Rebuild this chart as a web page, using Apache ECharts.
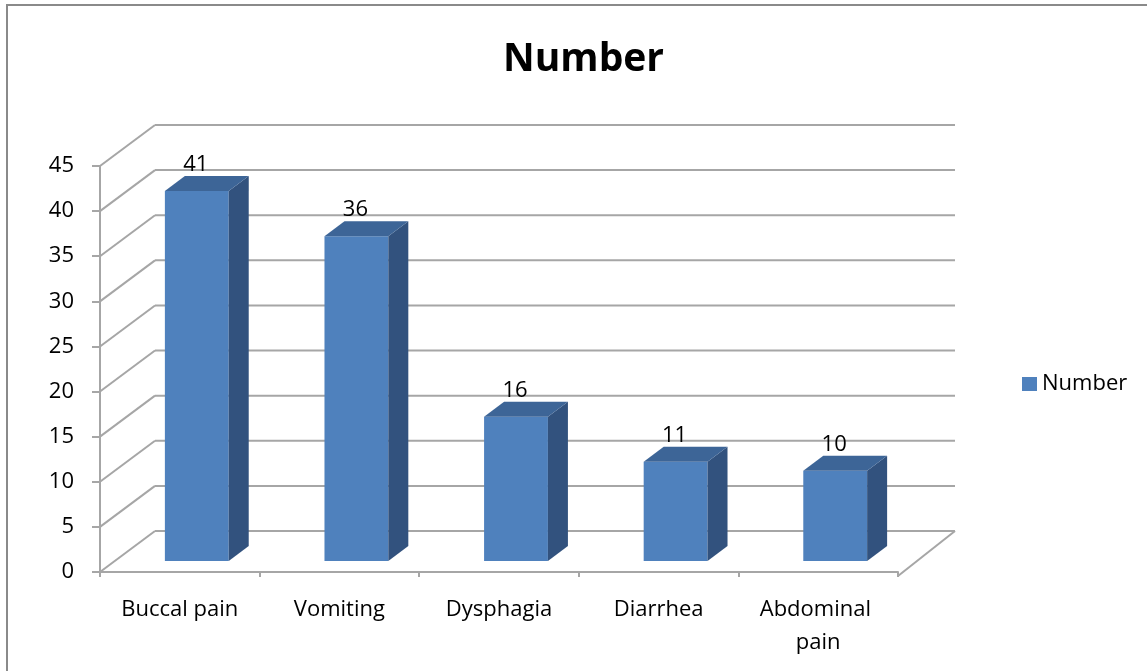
<!DOCTYPE html>
<html>
<head>
<meta charset="utf-8">
<script src="https://cdn.jsdelivr.net/npm/echarts@6/dist/echarts.min.js"></script>
<style>
html,body{margin:0;padding:0;background:#fff;}
#chart{width:1147px;height:671px;}
</style>
</head>
<body>
<div id="chart"></div>
<script>
const categories = ['Buccal pain', 'Vomiting', 'Dysphagia', 'Diarrhea', 'Abdominal pain'];
const values = [41, 36, 16, 11, 10];
const yTicks = [0, 5, 10, 15, 20, 25, 30, 35, 40, 45];
const seriesName = 'Number';

const FONT = 'Open Sans';
const FS = 22;
const FRONT = '#4F81BD';
const TOPC = '#3D6597';
const SIDE = '#32527E';
const GRID = '#A6A6A6';
const DEPTH_X = 55, DEPTH_Y = -41;

const chart = echarts.init(document.getElementById('chart'));

function renderGrid(params, api) {
  const v = api.value(1);
  const cs = params.coordSys;
  const p = api.coord([0, v]);
  const y = p[1];
  const x0 = cs.x;
  const xr = cs.x + cs.width;
  const children = [
    {type: 'line', shape: {x1: x0, y1: y, x2: x0 + DEPTH_X, y2: y + DEPTH_Y},
     style: {stroke: GRID, lineWidth: 2}},
    {type: 'line', shape: {x1: x0 + DEPTH_X, y1: y + DEPTH_Y, x2: xr + DEPTH_X + 2, y2: y + DEPTH_Y},
     style: {stroke: GRID, lineWidth: 2}}
  ];
  if (v === 0) {
    children.push({type: 'line', shape: {x1: xr, y1: y + 4, x2: xr + DEPTH_X + 2, y2: y + DEPTH_Y},
      style: {stroke: GRID, lineWidth: 2}});
  }
  return {type: 'group', children: children};
}

function renderBar(params, api) {
  const i = api.value(0), v = api.value(1);
  const base = api.coord([i, 0]);
  const top = api.coord([i, v]);
  const band = api.size([1, 0])[0];
  const w = band * 0.40;
  const x1 = base[0] + 17 - w / 2, x2 = x1 + w;
  const yb = base[1] - 11, yt = top[1] - 11;
  const dx = 20, dy = -15;
  return {type: 'group', children: [
    {type: 'rect', shape: {x: x1, y: yt, width: w, height: yb - yt}, style: {fill: FRONT}},
    {type: 'polygon', shape: {points: [[x2, yt], [x2 + dx, yt + dy], [x2 + dx, yb + dy], [x2, yb]]}, style: {fill: SIDE}},
    {type: 'polygon', shape: {points: [[x1, yt], [x1 + dx, yt + dy], [x2 + dx, yt + dy], [x2, yt]]}, style: {fill: TOPC}},
    {type: 'text', style: {text: String(v), x: (x1 + x2) / 2 - 1, y: yt + dy, align: 'center', verticalAlign: 'bottom',
      fontFamily: FONT, fontSize: FS, fill: '#000'}}
  ]};
}

chart.setOption({
  animation: false,
  backgroundColor: '#fff',
  title: {
    text: 'Number', left: 498, top: 35,
    textStyle: {fontFamily: FONT, fontWeight: 'bold', fontSize: 39, color: '#000'}
  },
  legend: {
    data: [seriesName], left: 1017, top: 368, icon: 'rect', itemWidth: 15, itemHeight: 14,
    textStyle: {fontFamily: FONT, fontSize: FS, color: '#000'}
  },
  graphic: [
    {type: 'rect', z: -10, shape: {x: 7, y: 5, width: 1160, height: 700},
     style: {fill: 'none', stroke: '#8a8a8a', lineWidth: 2}}
  ],
  grid: {left: 100, right: 249, top: 166, bottom: 99, containLabel: false},
  xAxis: {
    type: 'category', data: categories, offset: 4,
    axisLine: {show: true, lineStyle: {color: GRID, width: 2}},
    axisTick: {show: true, length: 5, alignWithLabel: false, lineStyle: {color: GRID, width: 2}},
    axisLabel: {margin: 17, fontFamily: FONT, fontSize: FS, color: '#000', width: 140, overflow: 'break', lineHeight: 33, interval: 0},
    splitLine: {show: false}
  },
  yAxis: {
    type: 'value', min: 0, max: 45, interval: 5,
    axisLine: {show: true, lineStyle: {color: GRID, width: 2}},
    axisTick: {show: true, length: 8, lineStyle: {color: GRID, width: 2}},
    axisLabel: {margin: 26, fontFamily: FONT, fontSize: FS, color: '#000'},
    splitLine: {show: false}
  },
  series: [
    {type: 'custom', name: 'grid', z: 1, silent: true, renderItem: renderGrid,
     data: yTicks.map(v => [0, v]), encode: {x: 0, y: 1}},
    {type: 'custom', name: seriesName, z: 2, renderItem: renderBar,
     itemStyle: {color: FRONT},
     data: values.map((v, i) => [i, v]), encode: {x: 0, y: 1}}
  ]
});
</script>
</body>
</html>
